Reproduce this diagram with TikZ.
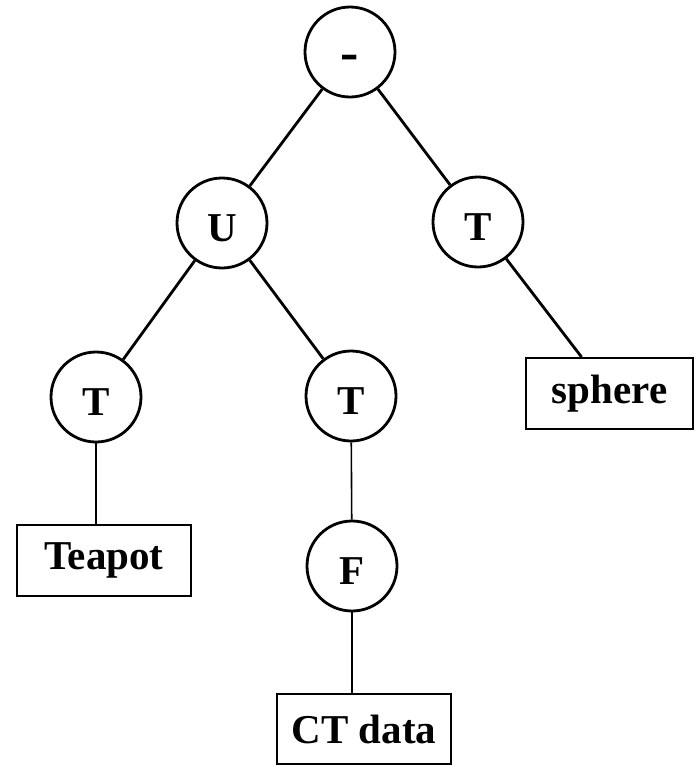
\documentclass[tikz,border=0pt]{standalone}
\usepackage{fontspec}
\setmainfont{Liberation Serif}

\begin{document}
\begin{tikzpicture}[x=1pt,y=-1pt,
    op/.style={circle,draw,line width=2.8pt,minimum size=90pt,inner sep=0pt,
      text height=36pt,text depth=0pt,
      font=\fontsize{41}{41}\selectfont\bfseries},
    leaf/.style={rectangle,draw,line width=2pt,minimum width=174pt,minimum height=71pt,
      inner sep=0pt,font=\fontsize{41}{41}\selectfont\bfseries},
    edge/.style={line width=2.8pt},
    thin edge/.style={line width=1.6pt}]
\useasboundingbox (0,0) rectangle (696,766);

% Operator nodes
\node[op,text height=24pt,font=\fontsize{55}{55}\selectfont\bfseries] (diff) at (350,52) {\raisebox{-6pt}{-}};
\node[op] (union) at (222,223) {U};
\node[op] (tr) at (478,222) {T};
\node[op] (tl) at (96,397) {T};
\node[op] (tm) at (351,396) {T};
\node[op] (f) at (352,566) {F};

% Leaves
\node[leaf] (teapot) at (104,560) {Teapot};
\node[leaf,minimum width=167pt] (sphere) at (609.5,393.5) {sphere};
\node[leaf,minimum height=70pt] (ct) at (364,729) {CT data};

% Tree edges
\draw[edge] (diff) -- (union);
\draw[edge] (diff) -- (tr);
\draw[edge] (union) -- (tl);
\draw[edge] (union) -- (tm);
\draw[edge] (tr) -- (sphere);
\draw[edge] (tl) -- (tl |- teapot.north);
\draw[thin edge] (tm) -- (f);
\draw[thin edge] (f) -- (f |- ct.north);

\end{tikzpicture}
\end{document}
